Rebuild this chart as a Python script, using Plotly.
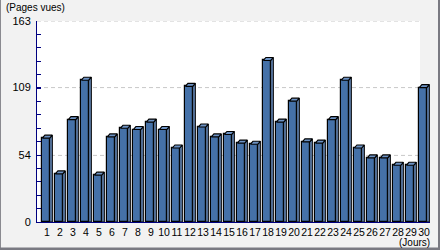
import plotly.graph_objects as go

days = list(range(1, 31))
day_labels = [str(d) for d in days]
views = [68, 39, 83, 115, 38, 69, 76, 75, 81, 75, 60, 110, 77, 69, 71,
         64, 63, 131, 81, 98, 65, 64, 83, 115, 60, 52, 52, 46, 46, 109]
y_ticks = [0, 54, 109, 163]
y_max = 163

# pixel geometry
FW, FH = 440, 250
L, R, T, B = 37, 10, 21, 28
PW = FW - L - R
PH = FH - T - B
PX_PER_CAT = 13.0
x0 = 1 - 10 / PX_PER_CAT
x1 = x0 + PW / PX_PER_CAT
px_per_unit_y = PH / y_max

front_left = -4.7 / PX_PER_CAT
front_right = 2.7 / PX_PER_CAT
back_right = 5.3 / PX_PER_CAT
back_left = front_left + (back_right - front_right)
depth = 3.0 / px_per_unit_y

front_col = "#4571a8"
side_col = "#6c92c4"

fig = go.Figure()
fig.add_trace(go.Bar(
    x=days, y=views, width=front_right - front_left, offset=front_left,
    marker=dict(color=front_col, line=dict(color="#000000", width=1.2)),
    hoverinfo="skip", showlegend=False))

sx, sy, cx, cy = [], [], [], []
for d, v in zip(days, views):
    sx += [d + front_right, d + front_right, d + back_right, d + back_right, d + front_right, None]
    sy += [0, v, v + depth, 0, 0, None]
    cx += [d + front_left, d + front_right, d + back_right, d + back_left, d + front_left, None]
    cy += [v, v, v + depth, v + depth, v, None]

for xs, ys in ((sx, sy), (cx, cy)):
    fig.add_trace(go.Scatter(
        x=xs, y=ys, mode="lines", fill="toself", fillcolor=side_col,
        line=dict(color="#000000", width=1.1), connectgaps=False,
        hoverinfo="skip", showlegend=False))

def pxx(px):
    return (px - L) / PW

def pxy(py):
    return (FH - B - py) / PH

shapes = [dict(type="rect", xref="paper", yref="paper", x0=0, x1=pxx(420), y0=0, y1=1,
               fillcolor="#ffffff", line=dict(width=0), layer="below")]
for t in y_ticks[1:]:
    shapes.append(dict(type="line", xref="paper", yref="y", x0=0, x1=pxx(420), y0=t, y1=t,
                       line=dict(color="#c8c8c8", width=1, dash="4px,3px"), layer="below"))
# outer frame
shapes.append(dict(type="rect", xref="paper", yref="paper", x0=pxx(0), x1=pxx(1), y0=pxy(250), y1=pxy(0),
                   fillcolor="#8a8a90", line=dict(width=0)))
shapes.append(dict(type="rect", xref="paper", yref="paper", x0=pxx(0), x1=pxx(440), y0=pxy(250), y1=pxy(247.5),
                   fillcolor="#7a7a82", line=dict(width=0)))
shapes.append(dict(type="rect", xref="paper", yref="paper", x0=pxx(438), x1=pxx(440), y0=pxy(250), y1=pxy(0),
                   fillcolor="#7a7a82", line=dict(width=0)))

font = "Liberation Sans, Arial, sans-serif"
navy = "#000080"
fig.update_layout(
    width=FW, height=FH,
    margin=dict(l=L, r=R, t=T, b=B, pad=0),
    paper_bgcolor="#f2f2f2", plot_bgcolor="rgba(0,0,0,0)",
    shapes=shapes, bargap=0,
    font=dict(family=font, size=11, color="#000000"),
    xaxis=dict(range=[x0, x1], tickmode="array", tickvals=days, ticktext=day_labels,
               tickangle=0, automargin=False,
               showgrid=False, zeroline=False, showline=True, linecolor=navy, linewidth=1,
               ticks="", ticklabelstandoff=0, tickfont=dict(size=10.5, family=font)),
    yaxis=dict(range=[0, y_max], tickmode="array", tickvals=y_ticks, automargin=False,
               showgrid=False, zeroline=False, showline=True, linecolor=navy, linewidth=1,
               ticks="inside", ticklen=4, tickcolor=navy, ticklabelstandoff=3,
               tickfont=dict(size=11, family=font),
               minor=dict(ticks="inside", ticklen=4, tickcolor=navy, tick0=0, dtick=y_max / 15)),
    annotations=[
        dict(text="(Pages vues)", xref="paper", yref="paper", x=pxx(4), y=pxy(7),
             xanchor="left", yanchor="middle", showarrow=False, font=dict(size=10, family=font)),
        dict(text="(Jours)", xref="paper", yref="paper", x=pxx(432), y=pxy(242.5),
             xanchor="right", yanchor="middle", showarrow=False, font=dict(size=10, family=font)),
    ],
)
fig.write_html("out.html")
